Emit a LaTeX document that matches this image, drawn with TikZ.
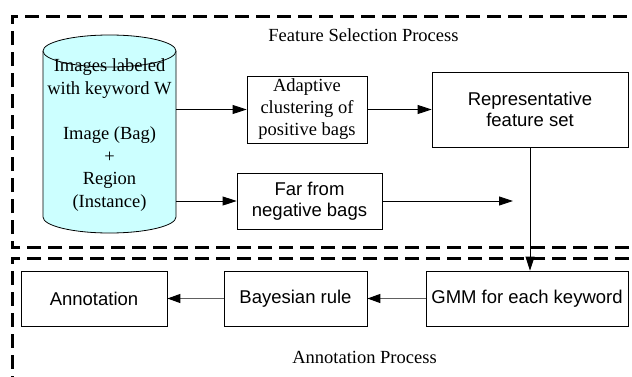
\documentclass[tikz,border=0pt]{standalone}
\usepackage{fontspec}
\setmainfont{Liberation Serif}
\newfontfamily\arialf{Liberation Sans}
\usetikzlibrary{arrows.meta}
\definecolor{cylfill}{HTML}{CCFFFF}
\definecolor{linegray}{HTML}{606060}
\tikzset{
  region/.style={line width=3pt,dash pattern=on 14pt off 7pt},
  serifbox/.style={draw,line width=0.8pt,inner sep=0pt,align=center,font=\fontsize{18.5}{22}\selectfont},
  sansbox/.style={draw,line width=0.8pt,inner sep=0pt,align=center,font=\arialf\fontsize{18.5}{21.5}\selectfont},
  conn/.style={line width=0.9pt,-{Triangle[length=14pt,width=9pt]}},
  gconn/.style={line width=1.2pt,linegray,-{Triangle[length=13pt,width=9pt,fill=black,color=black]}},
  title/.style={font=\fontsize{18.5}{22}\selectfont,inner sep=0pt}
}
\begin{document}
\begin{tikzpicture}[x=1pt,y=1pt]
\useasboundingbox (0,0) rectangle (632,376);
\clip (0,0) rectangle (632,376);
\fill[white] (0,0) rectangle (632,376);
% region boxes
\draw[region] (650,129) -- (12,129) -- (12,360) -- (650,360);
\draw[region] (650,118) -- (12,118) -- (12,-20);
\node[title] (fsp) at (363.5,341) {Feature Selection Process};
\node[title] (ap) at (364.5,19) {Annotation Process};
% cylinder
\fill[cylfill] (43,325) -- (43,159) arc[start angle=180,end angle=360,x radius=66.5,y radius=16] -- (176,325) arc[start angle=0,end angle=180,x radius=66.5,y radius=16] -- cycle;
\draw[line width=0.8pt] (43,325) -- (43,159) arc[start angle=180,end angle=360,x radius=66.5,y radius=16] -- (176,325);
\draw[line width=0.8pt,fill=cylfill] (109.5,325) ellipse[x radius=66.5,y radius=16];
\node[inner sep=0pt,minimum width=133pt,minimum height=166pt] (cyl) at (109.5,242) {};
\node[inner sep=0pt,align=center,font=\fontsize{18.5}{22.6}\selectfont] (cyltext) at (109.5,241) {Images labeled\\with keyword W\\[22.6pt]Image (Bag)\\+\\Region\\(Instance)};
% boxes
\node[serifbox,minimum width=120pt,minimum height=67pt] (adapt) at (307,266.5) {Adaptive\\clustering of\\positive bags};
\node[sansbox,minimum width=196pt,minimum height=75pt] (rep) at (530,266.5) {Representative\\feature set};
\node[sansbox,minimum width=145pt,minimum height=56pt] (far) at (309.5,175) {Far from\\negative bags};
\node[sansbox,minimum width=146pt,minimum height=55pt] (ann) at (94,77.5) {Annotation};
\node[sansbox,minimum width=143pt,minimum height=55pt] (bay) at (295.5,77.5) {Bayesian rule};
\node[sansbox,minimum width=202pt,minimum height=55pt] (gmm) at (527,77.5) {GMM for each keyword};
\coordinate (farend) at (513,175);
% connectors
\draw[conn] (cyl.east |- adapt.west) -- (adapt.west);
\draw[conn] (adapt.east) -- (rep.west |- adapt.east);
\draw[conn] (cyl.east |- far.west) -- (far.west);
\draw[conn] (far.east) -- (farend);
\draw[conn] (rep.south) -- (rep.south |- gmm.north);
\draw[gconn] (gmm.west) -- (bay.east);
\draw[gconn] (bay.west) -- (ann.east);
\end{tikzpicture}
\end{document}
